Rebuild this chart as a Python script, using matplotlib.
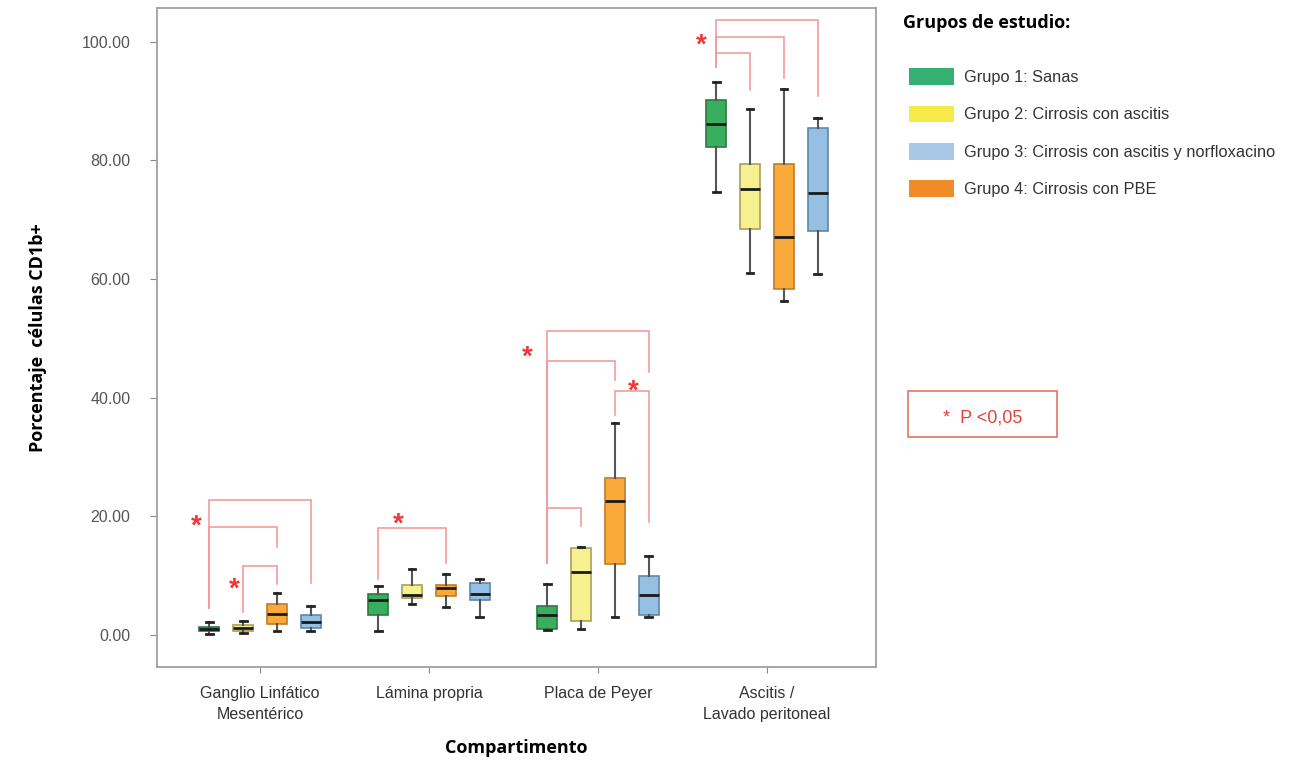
import matplotlib.pyplot as plt
from matplotlib.patches import Patch, Rectangle

# --- Data ---
compartments = ["Ganglio Linfático\nMesentérico", "Lámina propria",
                "Placa de Peyer", "Ascitis /\nLavado peritoneal"]
# box order inside each compartment: G1 (green), G2 (yellow), G4 (orange), G3 (blue)
box_groups = ["G1", "G2", "G4", "G3"]

# [whisker low, q1, median, q3, whisker high] per compartment
g1_stats = [[0.2, 0.6, 1.0, 1.4, 2.1],
            [0.6, 3.3, 5.9, 6.9, 8.3],
            [0.8, 1.0, 3.4, 4.9, 8.6],
            [74.6, 82.3, 86.1, 90.2, 93.3]]
g2_stats = [[0.3, 0.6, 1.1, 1.7, 2.4],
            [5.2, 6.2, 6.7, 8.4, 11.2],
            [1.0, 2.4, 10.6, 14.7, 14.8],
            [61.0, 68.4, 75.2, 79.4, 88.7]]
g4_stats = [[0.7, 1.9, 3.6, 5.3, 7.0],
            [4.7, 6.6, 7.9, 8.5, 10.3],
            [3.0, 11.9, 22.6, 26.5, 35.8],
            [56.3, 58.4, 67.1, 79.4, 92.0]]
g3_stats = [[0.7, 1.2, 2.2, 3.4, 4.9],
            [3.1, 5.85, 6.9, 8.7, 9.4],
            [3.0, 3.3, 6.7, 9.9, 13.3],
            [60.8, 68.1, 74.5, 85.5, 87.2]]
all_stats = {"G1": g1_stats, "G2": g2_stats, "G4": g4_stats, "G3": g3_stats}

# significance brackets: (compartment, left box, right box, height, left leg end, right leg end)
brackets = [
    (0, 0, 3, 22.8, 4.5, 8.8),
    (0, 0, 2, 18.2, 4.5, 14.8),
    (0, 1, 2, 11.7, 3.9, 8.6),
    (1, 0, 2, 18.0, 9.4, 12.1),
    (2, 0, 3, 51.3, 12.1, 44.4),
    (2, 0, 2, 46.2, 12.1, 43.0),
    (2, 0, 1, 21.4, 12.1, 18.3),
    (2, 2, 3, 41.2, 37.1, 19.1),
    (3, 0, 3, 103.7, 95.8, 90.9),
    (3, 0, 2, 100.8, 95.8, 93.9),
    (3, 0, 1, 98.1, 95.8, 91.8),
]
# stars: (compartment, offset from centre, height)
stars = [(0, -0.38, 18.2), (0, -0.15, 7.6), (1, -0.18, 18.6),
         (2, -0.42, 46.8), (2, 0.21, 41.1), (3, -0.39, 99.3)]

legend_labels = ["Grupo 1: Sanas", "Grupo 2: Cirrosis con ascitis",
                 "Grupo 3: Cirrosis con ascitis y norfloxacino",
                 "Grupo 4: Cirrosis con PBE"]

# --- Styles ---
fill = {"G1": "#3aae5f", "G2": "#f7f08e", "G4": "#f9aa3a", "G3": "#95bfe3"}
edge = {"G1": "#2b7a45", "G2": "#a8a060", "G4": "#c07c2a", "G3": "#5f87aa"}
legend_colors = ["#35b073", "#f5ea4a", "#a8c8e8", "#f08c28"]
offsets = [-0.3, -0.1, 0.1, 0.3]
bracket_color = "#f29c9c"
star_color = "#f03838"

plt.rcParams["font.family"] = ["Liberation Sans", "DejaVu Sans"]

fig = plt.figure(figsize=(13.1, 7.62), dpi=100)
ax = fig.add_axes([0.1198, 0.1247, 0.5489, 0.8648])

for gi, g in enumerate(box_groups):
    stats = []
    for ci, s in enumerate(all_stats[g]):
        stats.append({"whislo": s[0], "q1": s[1], "med": s[2], "q3": s[3],
                      "whishi": s[4], "fliers": []})
    pos = [ci + 1 + offsets[gi] for ci in range(len(compartments))]
    ax.bxp(stats, positions=pos, widths=0.12, patch_artist=True,
           showfliers=False, capwidths=0.04,
           boxprops=dict(facecolor=fill[g], edgecolor=edge[g], linewidth=1.2),
           medianprops=dict(color="#1a1a1a", linewidth=2),
           whiskerprops=dict(color="#555555", linewidth=1.5),
           capprops=dict(color="#222222", linewidth=2))

# brackets
for ci, a, b, h, la, rb in brackets:
    xa = ci + 1 + offsets[a]
    xb = ci + 1 + offsets[b]
    ax.plot([xa, xa, xb, xb], [la, h, h, rb], color=bracket_color, lw=1.2,
            solid_joinstyle="miter")

for ci, off, h in stars:
    ax.text(ci + 1 + off, h, "*", color=star_color, fontsize=20,
            fontweight="bold", ha="center", va="center")

ax.set_xlim(0.39, 4.645)
ax.set_ylim(-5.4, 105.7)
ax.set_yticks([0, 20, 40, 60, 80, 100])
ax.set_yticklabels(["0.00", "20.00", "40.00", "60.00", "80.00", "100.00"])
ax.set_xticks([1, 2, 3, 4])
ax.set_xticklabels(compartments, fontsize=11.5, color="#333333", linespacing=1.5)
ax.tick_params(axis="y", labelsize=11.5, labelcolor="#555555", color="#888888",
               length=5, pad=14)
ax.tick_params(axis="x", color="#888888", length=4, pad=10)
for sp in ax.spines.values():
    sp.set_color("#a0a0a0")
    sp.set_linewidth(1.3)

ax.set_ylabel("Porcentaje  células CD1b+", fontsize=13, fontweight="bold",
              family=["Open Sans", "DejaVu Sans"])
ax.yaxis.set_label_coords(-0.165, 0.5)
ax.yaxis.label.set_va("center")
ax.set_xlabel("Compartimento", fontsize=13, fontweight="bold",
              family=["Open Sans", "DejaVu Sans"])
ax.xaxis.set_label_coords(0.5, -0.123)
ax.xaxis.label.set_va("center")

# legend
handles = [Patch(facecolor=c, edgecolor="none") for c in legend_colors]
leg = fig.legend(handles, legend_labels, loc="upper left",
                 bbox_to_anchor=(0.683, 0.93), frameon=False,
                 fontsize=11.8, handlelength=2.7, handleheight=1.2,
                 labelspacing=1.25, handletextpad=0.6)
for t in leg.get_texts():
    t.set_color("#333333")
fig.text(0.689, 0.97, "Grupos de estudio:", fontsize=13, fontweight="bold",
         family=["Open Sans", "DejaVu Sans"], va="center")

# P-value box
fig.patches.append(Rectangle((0.693, 0.427), 0.114, 0.06, transform=fig.transFigure,
                             facecolor="none", edgecolor="#e8806e", lw=1.3))
fig.text(0.750, 0.4515, "*  P <0,05", fontsize=13, color="#e0443a",
         ha="center", va="center")

fig.savefig("out.png", dpi=100)
